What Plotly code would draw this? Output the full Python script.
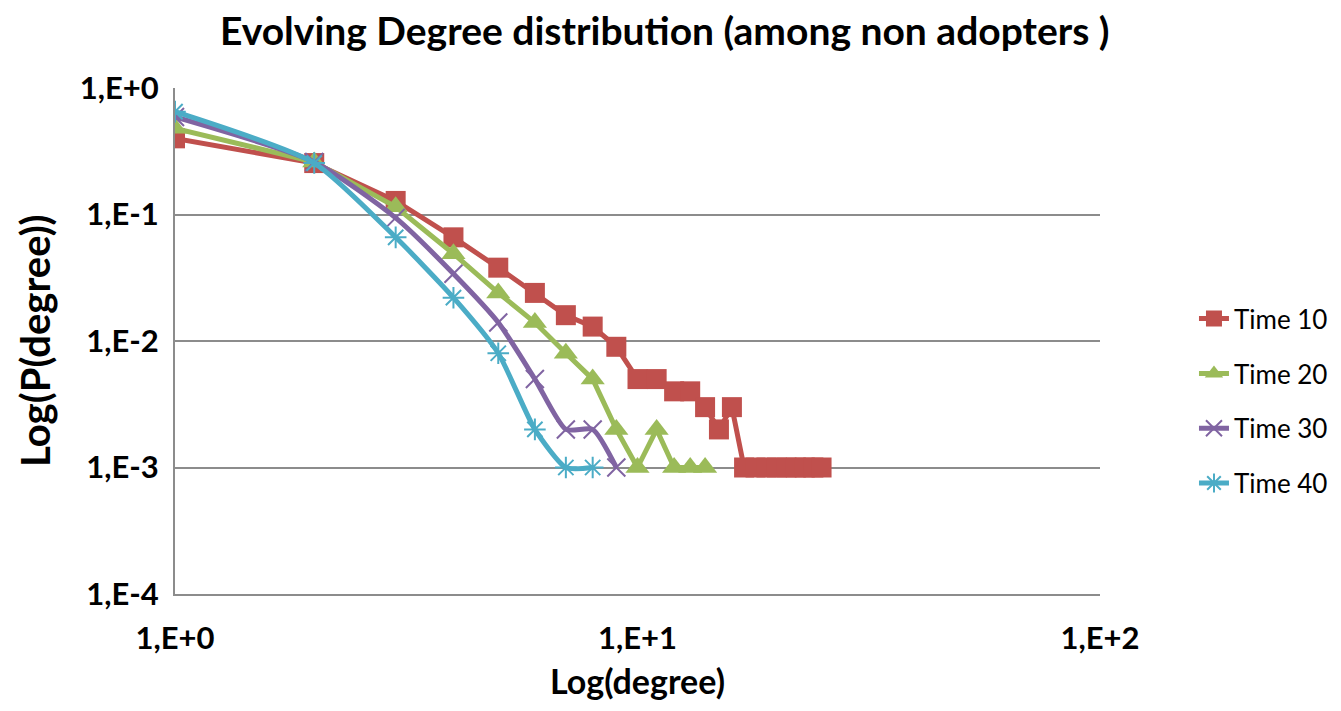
import plotly.graph_objects as go

# ---- data ----
degree_t10 = list(range(1, 26))
p_t10 = [0.40, 0.255, 0.128, 0.066, 0.038, 0.024, 0.016, 0.013, 0.009, 0.005,
         0.005, 0.004, 0.004, 0.003, 0.002, 0.003, 0.001, 0.001, 0.001, 0.001,
         0.001, 0.001, 0.001, 0.001, 0.001]

degree_t20 = list(range(1, 15))
p_t20 = [0.48, 0.26, 0.115, 0.049, 0.024, 0.014, 0.008, 0.005, 0.002, 0.001,
         0.002, 0.001, 0.001, 0.001]

degree_t30 = list(range(1, 10))
p_t30 = [0.59, 0.26, 0.094, 0.034, 0.014, 0.005, 0.002, 0.002, 0.001]

degree_t40 = list(range(1, 9))
p_t40 = [0.65, 0.255, 0.066, 0.022, 0.008, 0.002, 0.001, 0.001]

series_names = ["Time 10", "Time 20", "Time 30", "Time 40"]

x_tickvals = [1, 10, 100]
x_ticktext = ["1,E+0", "1,E+1", "1,E+2"]
y_tickvals = [1, 0.1, 0.01, 0.001, 0.0001]
y_ticktext = ["1,E+0", "1,E-1", "1,E-2", "1,E-3", "1,E-4"]

title_text = "Evolving Degree distribution (among non adopters )"
x_title = "Log(degree)"
y_title = "Log(P(degree))"

# ---- styles ----
colors = ["#C0504D", "#9BBB59", "#8064A2", "#4BACC6"]
FONT = "Lato"

fig = go.Figure()

fig.add_trace(go.Scatter(
    x=degree_t10, y=p_t10, name=series_names[0], mode="lines+markers",
    legendgroup="g1",
    line=dict(color=colors[0], width=5),
    marker=dict(symbol="square", size=20, color=colors[0]),
))
fig.add_trace(go.Scatter(
    x=degree_t20, y=p_t20, name=series_names[1], mode="lines+markers",
    legendgroup="g2",
    line=dict(color=colors[1], width=5),
    marker=dict(symbol="triangle-up", size=21, color=colors[1]),
))
fig.add_trace(go.Scatter(
    x=degree_t30, y=p_t30, name=series_names[2], mode="lines+markers",
    legendgroup="g3",
    line=dict(color=colors[2], width=5, shape="spline", smoothing=0.6),
    marker=dict(symbol="x-thin-open", size=18, color=colors[2],
                line=dict(width=2, color=colors[2])),
))
fig.add_trace(go.Scatter(
    x=degree_t40, y=p_t40, name=series_names[3], mode="lines+markers",
    legendgroup="g4",
    line=dict(color=colors[3], width=5, shape="spline", smoothing=0.6),
    marker=dict(symbol="asterisk-open", size=18, color=colors[3],
                line=dict(width=2, color=colors[3])),
))

fig.update_layout(
    width=1325, height=695,
    margin=dict(l=167, r=233, t=80, b=109, autoexpand=False),
    paper_bgcolor="white", plot_bgcolor="white",
    font=dict(family=FONT, color="black"),
    showlegend=True,
    legend=dict(
        x=1.1016, y=0.381, xanchor="left", yanchor="middle",
        font=dict(family=FONT, size=26, color="black"),
        tracegroupgap=18, itemwidth=30,
        bgcolor="rgba(0,0,0,0)",
    ),
    annotations=[
        dict(text=title_text, xref="paper", yref="paper", x=0.53, y=1.0,
             xanchor="center", yanchor="middle", yshift=58, showarrow=False,
             font=dict(family=FONT, size=39, weight="bold", color="black")),
        dict(text=x_title, xref="paper", yref="paper", x=0.5, y=0,
             xanchor="center", yanchor="middle", yshift=-86, showarrow=False,
             font=dict(family=FONT, size=34, weight="bold", color="black")),
        dict(text=y_title, xref="paper", yref="paper", x=0, y=0.5,
             xanchor="center", yanchor="middle", xshift=-140, textangle=-90,
             showarrow=False,
             font=dict(family=FONT, size=40, weight="bold", color="black")),
    ],
)

fig.update_xaxes(
    type="log", range=[0, 2],
    tickvals=x_tickvals, ticktext=x_ticktext,
    tickfont=dict(family=FONT, size=31, weight="bold", color="black"),
    ticks="", ticklabelstandoff=16,
    showgrid=False, zeroline=False,
    showline=True, linecolor="#8c8c8c", linewidth=2,
)
fig.update_yaxes(
    type="log", range=[-4, 0],
    tickvals=y_tickvals, ticktext=y_ticktext,
    tickfont=dict(family=FONT, size=31, weight="bold", color="black"),
    ticks="", ticklabelstandoff=8,
    showgrid=True, gridcolor="#8c8c8c", gridwidth=2,
    zeroline=False,
    showline=True, linecolor="#8c8c8c", linewidth=2,
)

fig.write_html("out.html")
